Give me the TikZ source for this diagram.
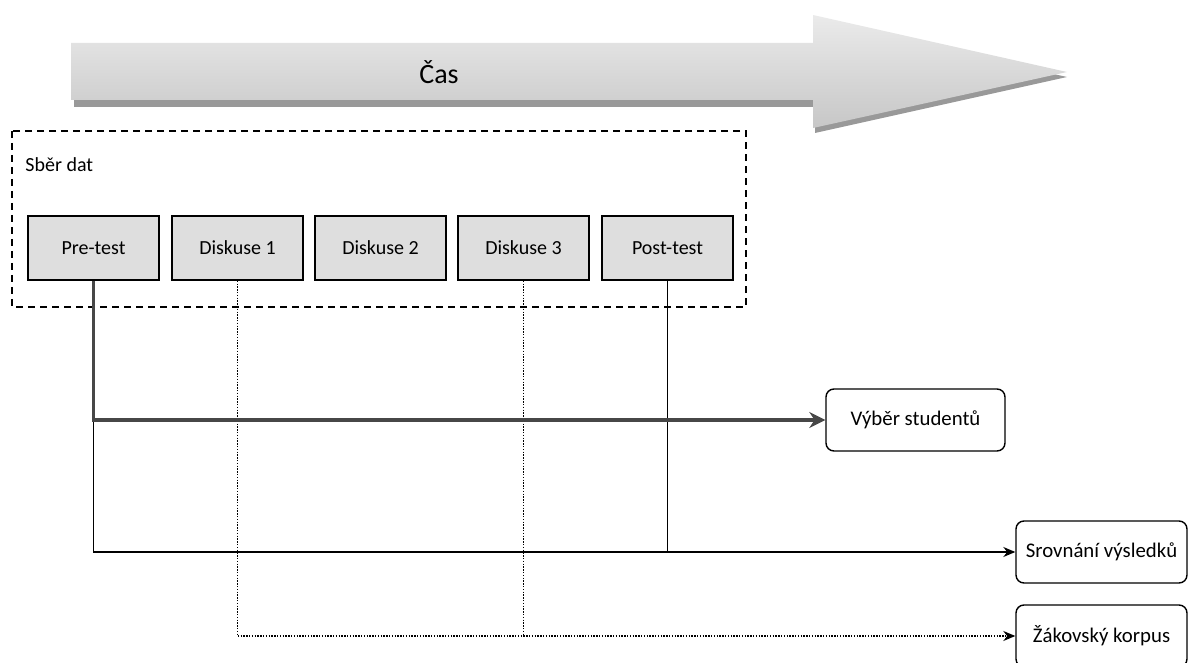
\documentclass[tikz,border=0pt]{standalone}
\usepackage{fontspec}
\setmainfont{Carlito}
\usetikzlibrary{arrows.meta}
\colorlet{stageGray}{black!13}
\colorlet{thickGray}{black!72}
\colorlet{arrowShadow}{black!40}

\begin{document}
\begin{tikzpicture}[x=0.5pt,y=-0.5pt,
    stage/.style={draw, line width=0.75pt, fill=stageGray, minimum width=65.5pt, minimum height=32pt, inner sep=0pt, font=\fontsize{10}{12}\selectfont},
    result/.style={draw, line width=0.7pt, rounded corners=4pt, minimum height=31pt, inner sep=0pt, font=\fontsize{10.4}{12}\selectfont},
    flow/.style={line width=0.65pt, -{Stealth[length=6pt,width=5pt]}},
    mainflow/.style={thickGray, line width=1.8pt, -{Stealth[length=8pt,width=8pt]}},
    corpusflow/.style={line width=0.7pt, dash pattern=on 0.7pt off 0.7pt, -{Stealth[length=6pt,width=5pt]}}]
    \useasboundingbox (0,0) rectangle (1189,663);
    % time arrow
    \fill[arrowShadow] (74,49) -- (815,49) -- (815,21) -- (1067,77) -- (815,133) -- (815,107) -- (74,107) -- cycle;
    \shade[top color=black!8, bottom color=black!22] (71,43) -- (813,43) -- (813,15) -- (1067,72) -- (813,128) -- (813,100) -- (71,100) -- cycle;
    \node (cas) at (439,72) {\fontsize{14}{16}\selectfont Čas};
    % data collection
    \draw[line width=0.75pt, dash pattern=on 3.5pt off 2.5pt] (12,131) rectangle (746,307);
    \node[anchor=west, font=\fontsize{10}{12}\selectfont, inner sep=0pt] (sber) at (25,165) {Sběr dat};
    \node[stage] (pre) at (93.5,248) {Pre-test};
    \node[stage] (d1) at (237.5,248) {Diskuse 1};
    \node[stage] (d2) at (380.5,248) {Diskuse 2};
    \node[stage] (d3) at (523.5,248) {Diskuse 3};
    \node[stage] (post) at (667.5,248) {Post-test};
    % outputs
    \node[result, minimum width=89.5pt] (vyber) at (915.5,420) {Výběr studentů};
    \node[result, minimum width=85.5pt] (srov) at (1101.5,552) {Srovnání výsledků};
    \node[result, minimum width=85.5pt] (zak) at (1101.5,636) {Žákovský korpus};
    % connectors
    \draw[flow] (pre.south) |- (srov.west);
    \draw[line width=0.65pt] (post.south) -- (post.south |- srov.west);
    \draw[corpusflow] (d1.south) |- (zak.west);
    \draw[line width=0.7pt, dash pattern=on 0.7pt off 0.7pt] (d3.south) -- (d3.south |- zak.west);
    \draw[mainflow] (pre.south) |- (vyber.west);
\end{tikzpicture}
\end{document}
